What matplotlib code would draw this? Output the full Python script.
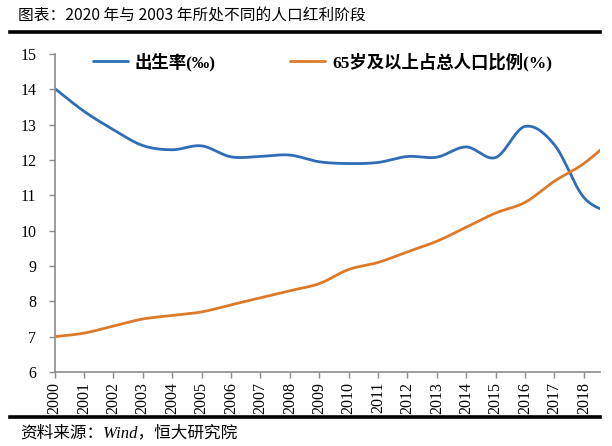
import numpy as np
import matplotlib
matplotlib.use("Agg")
import matplotlib.pyplot as plt
from matplotlib.lines import Line2D

years = [2000, 2001, 2002, 2003, 2004, 2005, 2006, 2007, 2008, 2009,
         2010, 2011, 2012, 2013, 2014, 2015, 2016, 2017, 2018, 2019]
birth_rate = [14.03, 13.38, 12.86, 12.41, 12.29, 12.40, 12.09, 12.10, 12.14, 11.95,
              11.90, 11.93, 12.10, 12.08, 12.37, 12.07, 12.95, 12.43, 10.94, 10.48]
elderly_ratio = [7.0, 7.1, 7.3, 7.5, 7.6, 7.7, 7.9, 8.1, 8.3, 8.5,
                 8.9, 9.1, 9.4, 9.7, 10.1, 10.5, 10.8, 11.4, 11.9, 12.6]
tick_years = list(range(2000, 2019))
y_ticks = list(range(6, 16))
label_birth = "出生率(‰)"
label_elderly = "65岁及以上占总人口比例(%)"
title = "图表：2020 年与 2003 年所处不同的人口红利阶段"
source = "资料来源：Wind，恒大研究院"


def smooth(x, y, n=24):
    """Catmull-Rom display smoothing (like Excel smoothed lines)."""
    x = np.asarray(x, float)
    y = np.asarray(y, float)
    px = np.concatenate([[x[0]], x, [x[-1]]])
    py = np.concatenate([[y[0]], y, [y[-1]]])
    xs, ys = [], []
    t = np.linspace(0, 1, n, endpoint=False)
    for i in range(1, len(px) - 2):
        for arr, out in ((px, xs), (py, ys)):
            p0, p1, p2, p3 = arr[i - 1], arr[i], arr[i + 1], arr[i + 2]
            out.extend(0.5 * ((2 * p1) + (-p0 + p2) * t
                              + (2 * p0 - 5 * p1 + 4 * p2 - p3) * t ** 2
                              + (-p0 + 3 * p1 - 3 * p2 + p3) * t ** 3))
    xs.append(x[-1])
    ys.append(y[-1])
    return np.array(xs), np.array(ys)


W, H = 612, 446
fig = plt.figure(figsize=(W / 100, H / 100), dpi=100)
ax = fig.add_axes([54.5 / W, 1 - 372 / H, (600 - 54.5) / W, (372 - 54) / H])

blue = "#2f6db5"
orange = "#dc7a2c"
bx, by = smooth(years, birth_rate)
ox, oy = smooth(years, elderly_ratio)
ax.plot(bx, by, color=blue, lw=2.0, label=label_birth, solid_capstyle="round")
ax.plot(ox, oy, color=orange, lw=2.0, label=label_elderly, solid_capstyle="round")

ax.set_xlim(2000, 2018.55)
ax.set_ylim(6, 15)
ax.set_yticks(y_ticks)
ax.set_xticks(tick_years)

serif = ["Liberation Serif", "Noto Sans CJK SC"]
ax.set_xticklabels([str(y) for y in tick_years], rotation=90, family=serif, fontsize=11.5)
ax.set_yticklabels([str(v) for v in y_ticks], family=serif, fontsize=11.5)

for s in ("top", "right"):
    ax.spines[s].set_visible(False)
for s in ("left", "bottom"):
    ax.spines[s].set_color("#8c8c8c")
    ax.spines[s].set_linewidth(1.2)
ax.tick_params(axis="both", colors="#8c8c8c", labelcolor="black", length=4, width=1.0)
ax.tick_params(axis="y", pad=9)
ax.tick_params(axis="x", pad=3)

leg = ax.legend(loc="center left", bbox_to_anchor=((93 - 54.5) / 545.5, (372 - 62) / 318),
                ncol=2, frameon=False, borderpad=0, borderaxespad=0,
                prop={"family": serif, "weight": "bold", "size": 12.5},
                handlelength=2.0, handletextpad=0.4, columnspacing=4.3)

fig.text(18 / W, 1 - 16 / H, title, family=["Noto Sans CJK SC"], fontsize=11.3,
         va="center", ha="left")
fig.add_artist(Line2D([10 / W, 600 / W], [1 - 32 / H, 1 - 32 / H], color="black", lw=2.6))
fig.add_artist(Line2D([10 / W, 600 / W], [1 - 417 / H, 1 - 417 / H], color="black", lw=2.6))
fig.text(20 / W, 1 - 433 / H, source, family=serif, style="italic", fontsize=12,
         va="center", ha="left")

fig.savefig("out.png", dpi=100)
